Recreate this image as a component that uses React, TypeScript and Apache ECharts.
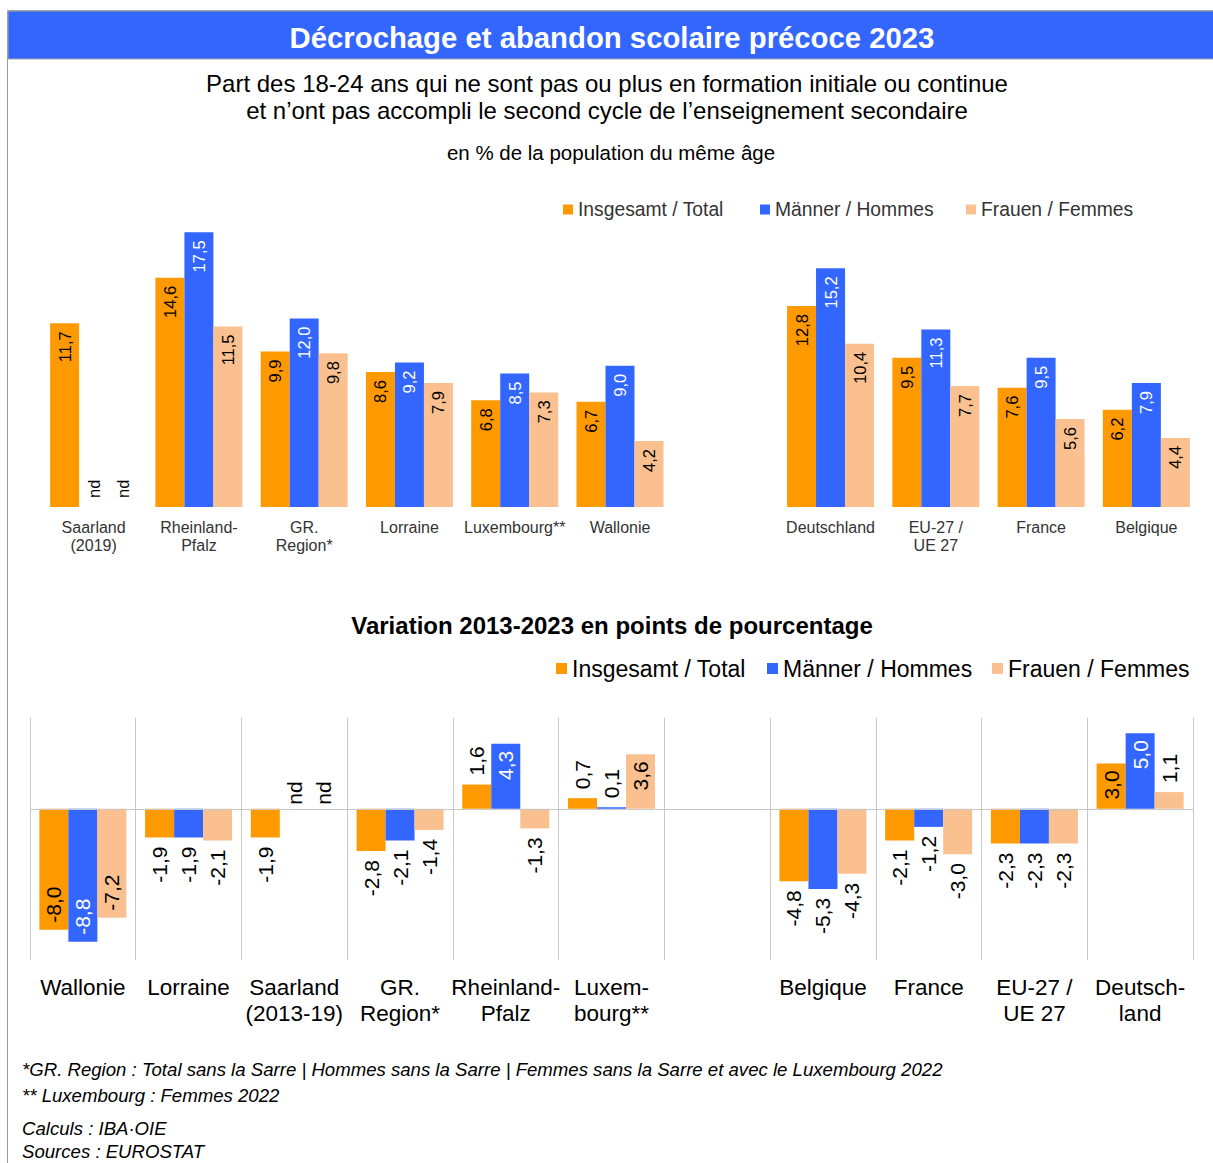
import React, { useEffect, useRef } from "react";
import * as echarts from "echarts";

const FONT = "'Liberation Sans', Arial, Helvetica, sans-serif";

const seriesNames = ["Insgesamt / Total", "Männer / Hommes", "Frauen / Femmes"];
const seriesColors = ["#FF9900", "#3366FF", "#FAC08F"];

// Level 2023 (%)
const levelCategories = [
  "Saarland\n(2019)", "Rheinland-\nPfalz", "GR.\nRegion*", "Lorraine", "Luxembourg**", "Wallonie",
  "", "Deutschland", "EU-27 /\nUE 27", "France", "Belgique",
];
const levelTotal: (number | "nd" | null)[] = [11.7, 14.6, 9.9, 8.6, 6.8, 6.7, null, 12.8, 9.5, 7.6, 6.2];
const levelMen: (number | "nd" | null)[] = ["nd", 17.5, 12.0, 9.2, 8.5, 9.0, null, 15.2, 11.3, 9.5, 7.9];
const levelWomen: (number | "nd" | null)[] = ["nd", 11.5, 9.8, 7.9, 7.3, 4.2, null, 10.4, 7.7, 5.6, 4.4];

// Change 2013-2023 (percentage points)
const changeCategories = [
  "Wallonie", "Lorraine", "Saarland\n(2013-19)", "GR.\nRegion*", "Rheinland-\nPfalz", "Luxem-\nbourg**",
  "", "Belgique", "France", "EU-27 /\nUE 27", "Deutsch-\nland",
];
const changeTotal: (number | "nd" | null)[] = [-8.0, -1.9, -1.9, -2.8, 1.6, 0.7, null, -4.8, -2.1, -2.3, 3.0];
const changeMen: (number | "nd" | null)[] = [-8.8, -1.9, "nd", -2.1, 4.3, 0.1, null, -5.3, -1.2, -2.3, 5.0];
const changeWomen: (number | "nd" | null)[] = [-7.2, -2.1, "nd", -1.4, -1.3, 3.6, null, -4.3, -3.0, -2.3, 1.1];

const footnotes = [
  "*GR. Region : Total sans la Sarre | Hommes sans la Sarre | Femmes sans la Sarre et avec le Luxembourg 2022",
  "** Luxembourg : Femmes 2022",
  "Calculs : IBA·OIE",
  "Sources : EUROSTAT",
];

const fmt = (v: number) => v.toFixed(1).replace(".", ",");

function levelItems(arr: (number | "nd" | null)[], s: number) {
  return arr.map((v) => {
    if (v === null) return "-";
    if (v === "nd")
      return {
        value: 0,
        label: { show: true, formatter: "nd", position: "top", rotate: 90, align: "left", verticalAlign: "middle", distance: 9, color: "#000" },
      };
    return {
      value: v,
      label: {
        show: true, formatter: fmt(v), position: "insideTop", rotate: 90, align: "right", verticalAlign: "middle",
        distance: 8, color: s === 1 ? "#fff" : "#000",
      },
    };
  });
}

function changeItems(arr: (number | "nd" | null)[], s: number) {
  return arr.map((v) => {
    if (v === null) return "-";
    if (v === "nd")
      return {
        value: 0,
        label: { show: true, formatter: "nd", position: "top", rotate: 90, align: "left", verticalAlign: "middle", distance: 4, color: "#000" },
      };
    const inside = v >= 3 || v <= -7;
    let position: string, align: string;
    if (v >= 0) {
      position = inside ? "insideTop" : "top";
      align = inside ? "right" : "left";
    } else {
      position = inside ? "insideBottom" : "bottom";
      align = inside ? "left" : "right";
    }
    return {
      value: v,
      label: {
        show: true, formatter: fmt(v), position, rotate: 90, align, verticalAlign: "middle",
        distance: inside ? 7 : 9, color: inside && s === 1 ? "#fff" : "#000",
      },
    };
  });
}

export default function App() {
  const ref = useRef<HTMLDivElement>(null);
  useEffect(() => {
    if (!ref.current) return;
    const chart = echarts.init(ref.current, undefined, { renderer: "svg" });
    const levels = [levelTotal, levelMen, levelWomen];
    const changes = [changeTotal, changeMen, changeWomen];

    const topSeries = levels.map((arr, i) => ({
      type: "bar",
      name: seriesNames[i],
      xAxisIndex: 0,
      yAxisIndex: 0,
      barWidth: 29,
      barGap: "0%",
      itemStyle: { color: seriesColors[i] },
      label: { show: true, fontSize: 16.5, fontFamily: FONT },
      data: levelItems(arr, i),
    }));
    const bottomSeries = changes.map((arr, i) => ({
      type: "bar",
      name: seriesNames[i],
      xAxisIndex: 1,
      yAxisIndex: 1,
      barWidth: 29,
      barGap: "0%",
      itemStyle: { color: seriesColors[i] },
      label: { show: true, fontSize: 21, fontFamily: FONT },
      data: changeItems(arr, i),
      markLine:
        i === 0
          ? {
              silent: true,
              symbol: "none",
              label: { show: false },
              lineStyle: { color: "#c8c8c8", type: "solid", width: 1 },
              data: [{ yAxis: 0 }],
            }
          : undefined,
    }));

    const legendBase = (name: string, left: number, top: number, size: number, font: number, color: string) => ({
      data: [name],
      left,
      top,
      padding: 0,
      icon: "rect",
      itemWidth: size,
      itemHeight: size,
      textStyle: { fontSize: font, color, fontFamily: FONT },
      selectedMode: false,
    });

    chart.setOption({
      animation: false,
      backgroundColor: "#fff",
      textStyle: { fontFamily: FONT },
      legend: [
        legendBase(seriesNames[0], 563, 200, 10, 19.3, "#333"),
        legendBase(seriesNames[1], 760, 200, 10, 19.3, "#333"),
        legendBase(seriesNames[2], 966, 200, 10, 19.3, "#333"),
        legendBase(seriesNames[0], 556, 657, 11, 23, "#000"),
        legendBase(seriesNames[1], 767, 657, 11, 23, "#000"),
        legendBase(seriesNames[2], 992, 657, 11, 23, "#000"),
      ],
      grid: [
        { left: 41, width: 1158, top: 193, height: 314, containLabel: false },
        { left: 30, width: 1163, top: 718, height: 242, containLabel: false },
      ],
      xAxis: [
        {
          type: "category",
          gridIndex: 0,
          data: levelCategories,
          axisLine: { show: false },
          axisTick: { show: false },
          splitLine: { show: false },
          axisLabel: { interval: 0, fontSize: 16, lineHeight: 18, margin: 11, color: "#333", fontFamily: FONT },
        },
        {
          type: "category",
          gridIndex: 1,
          data: changeCategories,
          axisLine: { show: false, onZero: false },
          axisTick: { show: false },
          splitLine: { show: true, interval: 0, lineStyle: { color: "#c8c8c8", width: 1 } },
          axisLabel: { interval: 0, fontSize: 22.5, lineHeight: 26, margin: 14, color: "#000", fontFamily: FONT },
        },
      ],
      yAxis: [
        { type: "value", gridIndex: 0, min: 0, max: 20, show: false, splitLine: { show: false } },
        { type: "value", gridIndex: 1, min: -10, max: 6, show: false, splitLine: { show: false } },
      ],
      series: [...topSeries, ...bottomSeries],
      graphic: [
        { type: "rect", shape: { x: 7.5, y: 10.5, width: 1210, height: 1160 }, style: { fill: "none", stroke: "#9a9a9a", lineWidth: 1 }, silent: true },
        { type: "rect", shape: { x: 8, y: 11, width: 1206, height: 48 }, style: { fill: "#3366FF", stroke: "#a6a6a6", lineWidth: 1 }, silent: true },
        {
          type: "text", x: 612, y: 37,
          style: { text: "Décrochage et abandon scolaire précoce 2023", fill: "#fff", font: `bold 29.3px ${FONT}`, textAlign: "center", textVerticalAlign: "middle" },
        },
        {
          type: "text", x: 607, y: 83,
          style: { text: "Part des 18-24 ans qui ne sont pas ou plus en formation initiale ou continue", fill: "#000", font: `24px ${FONT}`, textAlign: "center", textVerticalAlign: "middle" },
        },
        {
          type: "text", x: 607, y: 110,
          style: { text: "et n’ont pas accompli le second cycle de l’enseignement secondaire", fill: "#000", font: `24px ${FONT}`, textAlign: "center", textVerticalAlign: "middle" },
        },
        {
          type: "text", x: 611, y: 152,
          style: { text: "en % de la population du même âge", fill: "#000", font: `20.5px ${FONT}`, textAlign: "center", textVerticalAlign: "middle" },
        },
        {
          type: "text", x: 612, y: 625,
          style: { text: "Variation 2013-2023 en points de pourcentage", fill: "#000", font: `bold 24px ${FONT}`, textAlign: "center", textVerticalAlign: "middle" },
        },
        ...footnotes.map((t, i) => ({
          type: "text", x: 22, y: [1069, 1095, 1128, 1151][i],
          style: { text: t, fill: "#000", font: `italic 18.6px ${FONT}`, textAlign: "left", textVerticalAlign: "middle" },
        })),
      ],
    });
    return () => chart.dispose();
  }, []);
  return (
    <div
      ref={ref}
      style={{ position: "absolute", left: 0, top: 0, width: 1213, height: 1163, background: "#fff" }}
    />
  );
}
